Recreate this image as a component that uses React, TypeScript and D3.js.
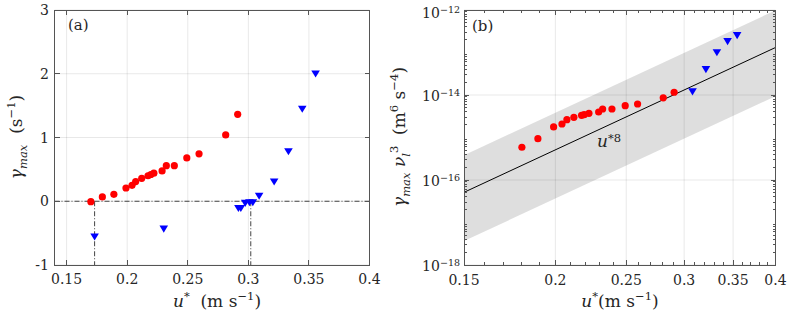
import { useEffect, useRef } from "react";
import * as d3 from "d3";

// panel (a): growth rate vs friction velocity
const uRed = [0.170, 0.1795, 0.189, 0.199, 0.204, 0.207, 0.212, 0.2172, 0.2195, 0.222, 0.2288, 0.2323, 0.2389, 0.2492, 0.2593, 0.2813, 0.2912];
const gammaRed = [-0.006, 0.068, 0.109, 0.208, 0.25, 0.308, 0.36, 0.40, 0.42, 0.44, 0.475, 0.558, 0.558, 0.68, 0.744, 1.04, 1.364];
const uBlue = [0.1731, 0.2302, 0.2918, 0.2938, 0.2974, 0.3009, 0.3037, 0.3089, 0.3213, 0.3331, 0.3445, 0.3555];
const gammaBlue = [-0.558, -0.433, -0.11, -0.11, -0.03, -0.02, -0.02, 0.083, 0.306, 0.78, 1.447, 2.0];
const uZero = [0.1731, 0.302];

// panel (b): scaled growth rate (positive values only)
const uRedB = [0.180, 0.1893, 0.1989, 0.2042, 0.2074, 0.212, 0.2172, 0.219, 0.2223, 0.2292, 0.2321, 0.239, 0.2492, 0.2591, 0.2809, 0.2907];
const gnuRed = [5.9e-16, 9.4e-16, 1.77e-15, 2.08e-15, 2.63e-15, 2.99e-15, 3.33e-15, 3.44e-15, 3.7e-15, 3.98e-15, 4.69e-15, 4.69e-15, 5.6e-15, 6.14e-15, 8.6e-15, 1.16e-14];
const uBlueB = [0.308, 0.3213, 0.3326, 0.344, 0.3545];
const gnuBlue = [1.2e-14, 4.0e-14, 1.0e-13, 1.83e-13, 2.53e-13];

// u*^8 fit and its spread
const fitU = [0.15, 0.4];
const fitCoef = 2.0e-10;
const fitExp = 8;
const bandUp = 7.5;
const bandDown = 1 / 14;

const xTicks = [0.15, 0.2, 0.25, 0.3, 0.35, 0.4];
const xTickLabels = ["0.15", "0.2", "0.25", "0.3", "0.35", "0.4"];
const yTicksA = [-1, 0, 1, 2, 3];
const yTicksB = [-18, -16, -14, -12];

const FONT = "'DejaVu Serif', serif";
const INK = "#262626";
const TICK_FS = 14;
const LABEL_FS = 17;

type Part = { t: string; it?: boolean; sup?: boolean; sub?: boolean };

function rich(sel: any, parts: Part[], size: number, supUp = 0.42) {
  let cur = 0;
  sel.style("font-family", FONT);
  parts.forEach((p) => {
    const off = p.sup ? -size * supUp : p.sub ? size * 0.28 : 0;
    sel
      .append("tspan")
      .attr("dy", off - cur)
      .attr("font-size", p.sup || p.sub ? size * 0.68 : size)
      .attr("font-style", p.it ? "italic" : "normal")
      .text(p.t);
    cur = off;
  });
}

function frame(g: any, x0: number, x1: number, y0: number, y1: number) {
  g.append("rect")
    .attr("x", x0)
    .attr("y", y1)
    .attr("width", x1 - x0)
    .attr("height", y0 - y1)
    .attr("fill", "none")
    .attr("stroke", "#555")
    .attr("stroke-width", 1)
    .attr("shape-rendering", "crispEdges");
}

function tick(g: any, x1: number, y1: number, x2: number, y2: number) {
  g.append("line")
    .attr("x1", x1)
    .attr("y1", y1)
    .attr("x2", x2)
    .attr("y2", y2)
    .attr("stroke", "#555")
    .attr("stroke-width", 1)
    .attr("shape-rendering", "crispEdges");
}

export default function App() {
  const svgRef = useRef<SVGSVGElement>(null);

  useEffect(() => {
    const svg = d3.select(svgRef.current);
    svg.selectAll("*").remove();
    svg.attr("fill", INK);

    // ---------------- panel (a) ----------------
    const xa = d3.scaleLinear().domain([0.14, 0.4]).range([54.5, 369.5]);
    const ya = d3.scaleLinear().domain([-1, 3]).range([265, 10]);
    const ga = svg.append("g");

    xTicks.forEach((t) => {
      ga.append("line").attr("x1", xa(t)).attr("x2", xa(t)).attr("y1", ya(-1)).attr("y2", ya(3))
        .attr("stroke", "#000").attr("stroke-opacity", 0.09);
    });
    yTicksA.forEach((t) => {
      ga.append("line").attr("x1", xa(0.14)).attr("x2", xa(0.4)).attr("y1", ya(t)).attr("y2", ya(t))
        .attr("stroke", "#000").attr("stroke-opacity", 0.09);
    });

    const dd = "5,2,1,2";
    ga.append("line").attr("x1", xa(0.14)).attr("x2", xa(0.4)).attr("y1", ya(0)).attr("y2", ya(0))
      .attr("stroke", "#444").attr("stroke-dasharray", dd);
    uZero.forEach((u) => {
      ga.append("line").attr("x1", xa(u)).attr("x2", xa(u)).attr("y1", ya(0)).attr("y2", ya(-1))
        .attr("stroke", "#444").attr("stroke-dasharray", dd);
    });

    ga.selectAll("circle.r")
      .data(uRed.map((u, i) => [u, gammaRed[i]]))
      .enter()
      .append("circle")
      .attr("cx", (d) => xa(d[0]))
      .attr("cy", (d) => ya(d[1]))
      .attr("r", 3.6)
      .attr("fill", "#ff0000");

    const tri = "M-4.3,-3.3L4.3,-3.3L0,3.8Z";
    ga.selectAll("path.b")
      .data(uBlue.map((u, i) => [u, gammaBlue[i]]))
      .enter()
      .append("path")
      .attr("d", tri)
      .attr("transform", (d) => `translate(${xa(d[0])},${ya(d[1])})`)
      .attr("fill", "#0000ff");

    frame(ga, xa(0.14), xa(0.4), ya(-1), ya(3));
    xTicks.forEach((t, i) => {
      tick(ga, xa(t), ya(-1), xa(t), ya(-1) - 5);
      tick(ga, xa(t), ya(3), xa(t), ya(3) + 5);
      rich(ga.append("text").attr("x", xa(t)).attr("y", 284).attr("text-anchor", "middle"),
        [{ t: xTickLabels[i] }], TICK_FS);
    });
    yTicksA.forEach((t) => {
      tick(ga, xa(0.14), ya(t), xa(0.14) + 5, ya(t));
      tick(ga, xa(0.4), ya(t), xa(0.4) - 5, ya(t));
      rich(ga.append("text").attr("x", 49).attr("y", ya(t) + 5).attr("text-anchor", "end"),
        [{ t: t < 0 ? "-" + Math.abs(t) : String(t) }], TICK_FS);
    });

    rich(ga.append("text").attr("x", 68).attr("y", 30), [{ t: "(a)" }], TICK_FS + 1);

    rich(
      ga.append("text").attr("x", 217).attr("y", 307).attr("text-anchor", "middle"),
      [{ t: "u", it: true }, { t: "*", sup: true }, { t: "\u00a0\u00a0(m\u00a0s" }, { t: "\u22121", sup: true }, { t: ")" }],
      LABEL_FS
    );
    rich(
      ga.append("text").attr("transform", "translate(22,137) rotate(-90)").attr("text-anchor", "middle"),
      [{ t: "\u03b3", it: true }, { t: "max", it: true, sub: true }, { t: "\u00a0\u00a0(s" }, { t: "\u22121", sup: true }, { t: ")" }],
      LABEL_FS
    );

    // ---------------- panel (b) ----------------
    const xb = d3.scaleLog().domain([0.15, 0.4]).range([464, 775.5]);
    const yb = d3.scaleLog().domain([1e-18, 1e-12]).range([265, 10]);
    const gb = svg.append("g");

    const clipId = "clipB";
    gb.append("clipPath").attr("id", clipId).append("rect")
      .attr("x", 464).attr("y", 10).attr("width", 311.5).attr("height", 255);

    xTicks.slice(1, 5).forEach((t) => {
      gb.append("line").attr("x1", xb(t)).attr("x2", xb(t)).attr("y1", 265).attr("y2", 10)
        .attr("stroke", "#000").attr("stroke-opacity", 0.09);
    });
    yTicksB.forEach((e) => {
      gb.append("line").attr("x1", 464).attr("x2", 775.5).attr("y1", yb(10 ** e)).attr("y2", yb(10 ** e))
        .attr("stroke", "#000").attr("stroke-opacity", 0.09);
    });

    const fit = (u: number) => fitCoef * Math.pow(u, fitExp);
    const band = d3
      .area<number>()
      .x((u) => xb(u))
      .y0((u) => yb(fit(u) * bandDown))
      .y1((u) => yb(fit(u) * bandUp));
    gb.append("path").datum(fitU).attr("d", band).attr("fill", "#000").attr("fill-opacity", 0.13)
      .attr("clip-path", `url(#${clipId})`);

    const line = d3.line<number>().x((u) => xb(u)).y((u) => yb(fit(u)));
    gb.append("path").datum(fitU).attr("d", line).attr("fill", "none").attr("stroke", "#000")
      .attr("stroke-width", 1).attr("clip-path", `url(#${clipId})`);

    gb.selectAll("circle.r")
      .data(uRedB.map((u, i) => [u, gnuRed[i]]))
      .enter()
      .append("circle")
      .attr("cx", (d) => xb(d[0]))
      .attr("cy", (d) => yb(d[1]))
      .attr("r", 3.6)
      .attr("fill", "#ff0000");
    gb.selectAll("path.b")
      .data(uBlueB.map((u, i) => [u, gnuBlue[i]]))
      .enter()
      .append("path")
      .attr("d", tri)
      .attr("transform", (d) => `translate(${xb(d[0])},${yb(d[1])})`)
      .attr("fill", "#0000ff");

    rich(
      gb.append("text").attr("x", 597).attr("y", 147),
      [{ t: "u", it: true }, { t: "*8", sup: true }],
      LABEL_FS,
      0.3
    );

    frame(gb, 464, 775.5, 265, 10);
    // minor ticks on log axes
    d3.range(15, 41).forEach((k) => {
      const x = xb(k / 100);
      tick(gb, x, 265, x, 262);
      tick(gb, x, 10, x, 13);
    });
    d3.range(-18, -12).forEach((e) => {
      d3.range(2, 10).forEach((m) => {
        const y = yb(m * 10 ** e);
        tick(gb, 464, y, 467, y);
        tick(gb, 775.5, y, 772.5, y);
      });
    });
    xTicks.forEach((t, i) => {
      tick(gb, xb(t), 265, xb(t), 260);
      tick(gb, xb(t), 10, xb(t), 15);
      rich(gb.append("text").attr("x", xb(t)).attr("y", 285).attr("text-anchor", "middle"),
        [{ t: xTickLabels[i] }], TICK_FS);
    });
    yTicksB.forEach((e) => {
      const y = yb(10 ** e);
      tick(gb, 464, y, 469, y);
      tick(gb, 775.5, y, 770.5, y);
      rich(
        gb.append("text").attr("x", 460).attr("y", Math.max(y + 6, 18)).attr("text-anchor", "end"),
        [{ t: "10" }, { t: "\u2212" + Math.abs(e), sup: true }],
        TICK_FS,
        0.34
      );
    });

    rich(gb.append("text").attr("x", 472).attr("y", 31), [{ t: "(b)" }], TICK_FS + 1);

    rich(
      gb.append("text").attr("x", 620).attr("y", 307).attr("text-anchor", "middle"),
      [{ t: "u", it: true }, { t: "*", sup: true }, { t: "(m\u00a0s" }, { t: "\u22121", sup: true }, { t: ")" }],
      LABEL_FS
    );
    rich(
      gb.append("text").attr("transform", "translate(405,137) rotate(-90)").attr("text-anchor", "middle"),
      [
        { t: "\u03b3", it: true },
        { t: "max", it: true, sub: true },
        { t: "\u00a0\u03bd", it: true },
        { t: "l", it: true, sub: true },
        { t: "3", sup: true },
        { t: "\u00a0\u00a0(m" },
        { t: "6", sup: true },
        { t: "\u00a0s" },
        { t: "\u22124", sup: true },
        { t: ")" },
      ],
      LABEL_FS
    );
  }, []);

  return (
    <svg
      ref={svgRef}
      width={789}
      height={315}
      style={{ position: "absolute", left: 0, top: 0, background: "#fff" }}
    />
  );
}
